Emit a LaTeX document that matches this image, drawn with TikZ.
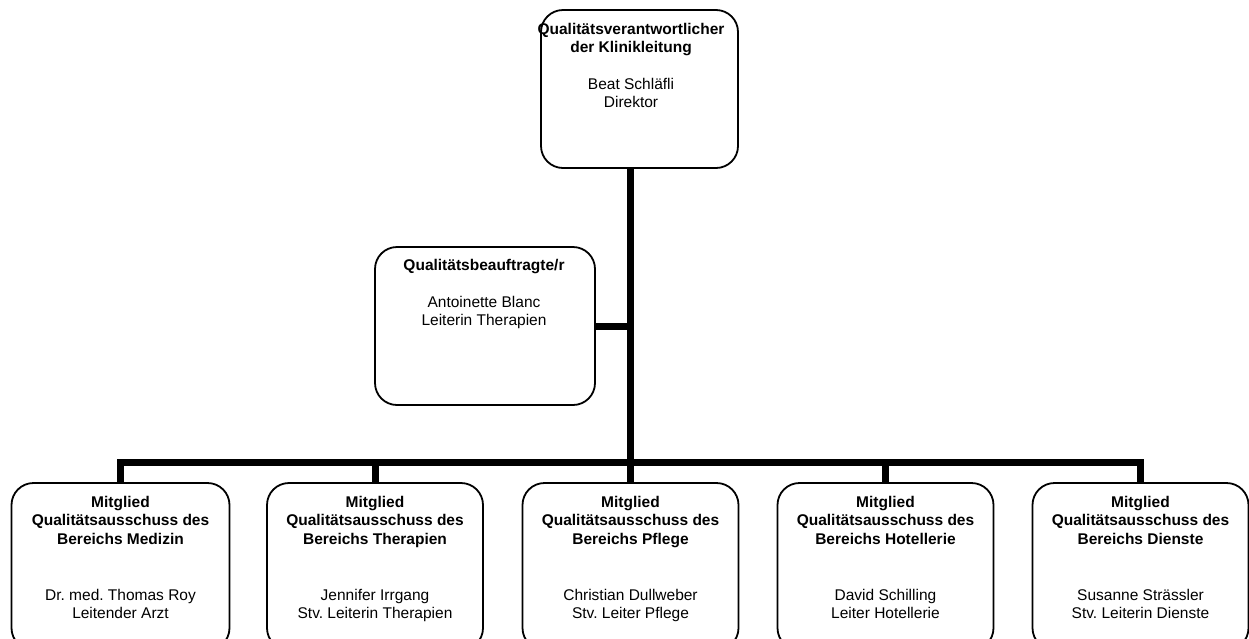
\documentclass[tikz,border=0pt]{standalone}
\usepackage{fontspec}
\setmainfont{Liberation Sans}
\frenchspacing
\begin{document}
\begin{tikzpicture}[x=1pt,y=-1pt,
  box/.style={draw, line width=1.8pt, rounded corners=22pt, fill=white, inner sep=0pt},
  conn/.style={line width=7pt},
  txt/.style={anchor=north, align=center, inner sep=0pt, font=\fontsize{15.5}{18.3}\selectfont},
  ]
\useasboundingbox (0,0) rectangle (1249,638);
\clip (0,0) rectangle (1249,638);
% boxes (shapes)
\node[box, minimum width=197pt, minimum height=158pt] (top) at (639.5,89) {};
\node[box, minimum width=220pt, minimum height=158pt] (mid) at (485,326) {};
\node[box, minimum width=218pt, minimum height=167pt] (b1) at (120.5,566.5) {};
\node[box, minimum width=216pt, minimum height=167pt] (b2) at (375,566.5) {};
\node[box, minimum width=216pt, minimum height=167pt] (b3) at (630.5,566.5) {};
\node[box, minimum width=216pt, minimum height=167pt] (b4) at (885.5,566.5) {};
\node[box, minimum width=216pt, minimum height=167pt] (b5) at (1140.5,566.5) {};
% connectors
\coordinate (bus) at (0,462);
\draw[conn] (top.south -| b3.north) -- (b3.north);
\draw[conn] (mid.east) -- (mid.east -| b3.north);
\draw[conn] (b1.north) -- (b1.north |- bus) -- (b5.north |- bus) -- (b5.north);
\draw[conn] (b2.north) -- (b2.north |- bus);
\draw[conn] (b4.north) -- (b4.north |- bus);
% texts
\node[txt] (toptxt) at (631,23) {\textbf{Qualitätsverantwortlicher}\\\textbf{der Klinikleitung}\\[18.5pt]Beat Schläfli\\Direktor};
\node[txt] (midtxt) at (484,259) {\textbf{Qualitätsbeauftragte/r}\\[18.5pt]Antoinette Blanc\\Leiterin Therapien};
\node[txt] (t1) at (b1.north |- 0,496) {\textbf{Mitglied}\\\textbf{Qualitätsausschuss des}\\\textbf{Bereichs Medizin}\\[38pt]Dr. med. Thomas Roy\\Leitender Arzt};
\node[txt] (t2) at (b2.north |- 0,496) {\textbf{Mitglied}\\\textbf{Qualitätsausschuss des}\\\textbf{Bereichs Therapien}\\[38pt]Jennifer Irrgang\\Stv. Leiterin Therapien};
\node[txt] (t3) at (b3.north |- 0,496) {\textbf{Mitglied}\\\textbf{Qualitätsausschuss des}\\\textbf{Bereichs Pflege}\\[38pt]Christian Dullweber\\Stv. Leiter Pflege};
\node[txt] (t4) at (b4.north |- 0,496) {\textbf{Mitglied}\\\textbf{Qualitätsausschuss des}\\\textbf{Bereichs Hotellerie}\\[38pt]David Schilling\\Leiter Hotellerie};
\node[txt] (t5) at (b5.north |- 0,496) {\textbf{Mitglied}\\\textbf{Qualitätsausschuss des}\\\textbf{Bereichs Dienste}\\[38pt]Susanne Strässler\\Stv. Leiterin Dienste};
\end{tikzpicture}
\end{document}
